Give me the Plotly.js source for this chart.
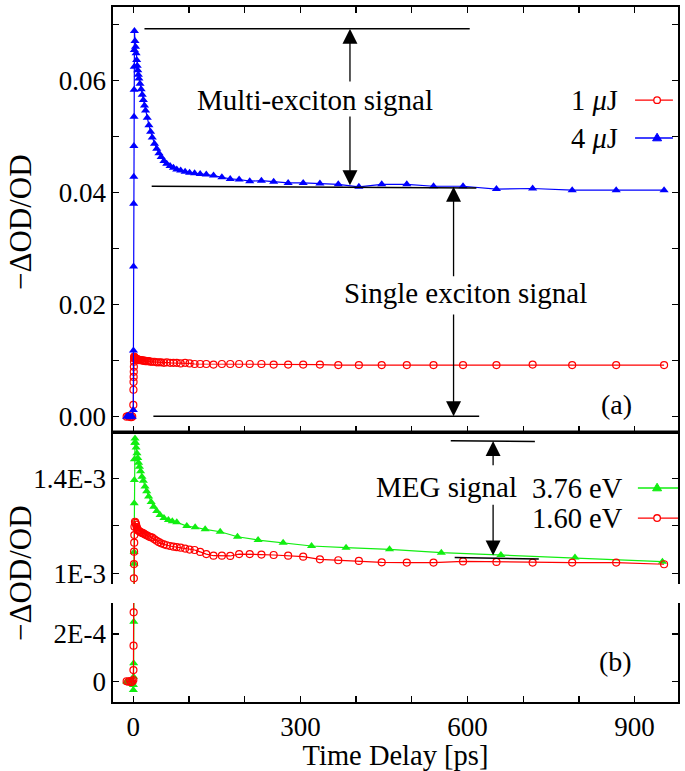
<!DOCTYPE html>
<html>
<head>
<meta charset="utf-8">
<script src="https://cdn.plot.ly/plotly-3.0.1.min.js"></script>
<style>
  body { margin: 0; background: #fff; }
  #plot { width: 685px; height: 771px; }
</style>
</head>
<body>
<div id="plot"></div>
<script>
// time delay [ps], shared by the 1/4 uJ curves and the 1.60 eV curve
var timeMain = [-12, -9, -6, -4, -2,
    0, 0.2, 0.4, 0.6, 0.8, 1.0, 1.2, 1.4, 1.6, 1.8,
    2,
    3, 4, 5, 6, 7, 8, 9, 10,
    12, 14, 16, 18, 20, 22,
    25, 28, 31, 34,
    38, 42, 46, 50,
    55, 60, 66, 72, 78,
    85, 93, 101, 110, 120,
    131, 144, 159, 174,
    190, 209, 230, 252, 278,
    305, 335, 368,
    405, 446, 491, 539, 592, 652, 717, 788, 867, 953];

// panel (a)
var od1uJ = [0, 0.0001, 0, -0.0001, 0,
    0.0021, 0.0048, 0.0062, 0.0071, 0.0080, 0.0089, 0.0098, 0.0104, 0.0107, 0.0106,
    0.0105,
    0.0104, 0.0104, 0.0103, 0.0103, 0.0102, 0.0102, 0.0102, 0.0101,
    0.0101, 0.0101, 0.0100, 0.0100, 0.0100, 0.0099,
    0.0099, 0.0099, 0.0098, 0.0098,
    0.0098, 0.0097, 0.0097, 0.0097,
    0.0096, 0.0097, 0.0096, 0.0096, 0.0096,
    0.0095, 0.0096, 0.0095, 0.0094, 0.0094,
    0.0094, 0.0093, 0.0094, 0.0094,
    0.0094, 0.0094, 0.0094, 0.0093, 0.0093,
    0.0093, 0.0093, 0.0092,
    0.0092, 0.0092, 0.0092, 0.0092, 0.0092, 0.0092, 0.0093, 0.0092, 0.0092, 0.0092];

var od4uJ = [0, 0.0002, -0.0001, 0.0001, 0,
    0.0012, 0.0118, 0.0268, 0.0380, 0.0428, 0.0483, 0.0535, 0.0583, 0.0624, 0.0654,
    0.0688,
    0.0670, 0.0660, 0.0648, 0.0636, 0.0626, 0.0618, 0.0610, 0.0603,
    0.0594, 0.0584, 0.0574, 0.0565, 0.0555, 0.0546,
    0.0533, 0.0520, 0.0508, 0.0498,
    0.0487, 0.0478, 0.0470, 0.0463,
    0.0456, 0.0451, 0.0447, 0.0444, 0.0441,
    0.0439, 0.0437, 0.0435, 0.0434, 0.0433,
    0.0432, 0.0430, 0.0427, 0.0424,
    0.0423, 0.0420, 0.0421, 0.0419, 0.0417,
    0.0417, 0.0416, 0.04145,
    0.0410, 0.04145, 0.04145, 0.0411, 0.0411, 0.0406, 0.0407, 0.0404, 0.0404, 0.0404];

// panel (b)
var od160eV = [2e-6, 0, 3e-6, -2e-6, 1e-6,
    0.7e-5, 4.9e-5, 1.51e-4, 2.91e-4, 6.2e-4, 0.979e-3, 1.039e-3, 1.091e-3, 1.129e-3, 1.161e-3,
    1.196e-3,
    1.217e-3, 1.212e-3, 1.205e-3, 1.195e-3, 1.188e-3, 1.182e-3, 1.180e-3, 1.178e-3,
    1.175e-3, 1.172e-3, 1.170e-3, 1.168e-3, 1.165e-3, 1.162e-3,
    1.159e-3, 1.155e-3, 1.152e-3, 1.150e-3,
    1.143e-3, 1.137e-3, 1.131e-3, 1.126e-3,
    1.122e-3, 1.118e-3, 1.115e-3, 1.112e-3, 1.110e-3,
    1.108e-3, 1.104e-3, 1.100e-3, 1.098e-3, 1.090e-3,
    1.081e-3, 1.074e-3, 1.074e-3, 1.073e-3,
    1.081e-3, 1.081e-3, 1.079e-3, 1.077e-3, 1.074e-3,
    1.070e-3, 1.059e-3, 1.055e-3,
    1.052e-3, 1.046e-3, 1.045e-3, 1.045e-3, 1.050e-3, 1.048e-3, 1.045e-3, 1.045e-3, 1.045e-3, 1.038e-3];

var time376 = [-12, -9, -6, -4, -2,
    0, 0.2, 0.4, 0.6, 0.8, 1.0, 1.2, 1.4, 1.6, 1.8,
    2, 2.5, 3, 4, 5,
    6.5, 8, 9.5, 11, 13, 15.5, 18, 21, 24, 27.5,
    32, 36.5, 42, 48, 55, 63, 70, 78,
    96, 111, 129, 156, 187, 224, 269,
    320, 382, 460, 553, 660, 793, 950];

var od376eV = [1e-6, -2e-6, 2e-6, 0, -1e-6,
    -0.35e-4, -0.14e-4, 0.21e-4, 0.77e-4, 2.52e-4, 0.55e-3, 1.04e-3, 1.09e-3, 1.295e-3, 1.393e-3,
    1.48e-3, 1.55e-3, 1.568e-3, 1.55e-3, 1.53e-3,
    1.505e-3, 1.485e-3, 1.465e-3, 1.449e-3, 1.43e-3, 1.407e-3, 1.39e-3, 1.365e-3, 1.345e-3, 1.323e-3,
    1.30e-3, 1.28e-3, 1.262e-3, 1.245e-3, 1.233e-3, 1.224e-3, 1.219e-3, 1.215e-3,
    1.199e-3, 1.194e-3, 1.185e-3, 1.175e-3, 1.154e-3, 1.140e-3, 1.129e-3,
    1.115e-3, 1.108e-3, 1.101e-3, 1.087e-3, 1.077e-3, 1.066e-3, 1.049e-3];

var xTicks = [0, 100, 200, 300, 400, 500, 600, 700, 800, 900];
var xTickText = ['0', '', '', '300', '', '', '600', '', '', '900'];
var yTicksA = [0, 0.01, 0.02, 0.03, 0.04, 0.05, 0.06, 0.07];
var yTickTextA = ['0.00', '', '0.02', '', '0.04', '', '0.06', ''];
var yTicksBHigh = [1.0e-3, 1.2e-3, 1.4e-3];
var yTickTextBHigh = ['1E-3', '', '1.4E-3'];
var yTicksBLow = [0, 2e-4];
var yTickTextBLow = ['0', '2E-4'];

var RED = '#ff0000', BLUE = '#0000ff', GREEN = '#11ee11';
var FONT = '"Liberation Serif", "DejaVu Serif", serif';

function circleTrace(x, y, xa, ya) {
    return {
        x: x, y: y, xaxis: xa, yaxis: ya,
        mode: 'lines+markers', type: 'scatter',
        line: {color: RED, width: 1.2},
        marker: {symbol: 'circle-open', size: 7, color: RED, line: {width: 1.2}}
    };
}
function triangleTrace(x, y, color, xa, ya) {
    return {
        x: x, y: y, xaxis: xa, yaxis: ya,
        mode: 'lines+markers', type: 'scatter',
        line: {color: color, width: 1.2},
        marker: {symbol: 'triangle-up', size: 8, color: color}
    };
}

var data = [
    circleTrace(timeMain, od1uJ, 'x', 'y'),
    triangleTrace(timeMain, od4uJ, BLUE, 'x', 'y'),
    // panel (b), drawn on both halves of the broken axis
    triangleTrace(time376, od376eV, GREEN, 'x2', 'y2'),
    circleTrace(timeMain, od160eV, 'x2', 'y2'),
    triangleTrace(time376, od376eV, GREEN, 'x2', 'y3'),
    circleTrace(timeMain, od160eV, 'x2', 'y3')
];

var tickFont = {family: FONT, size: 27, color: '#000'};
var axisCommon = {
    showline: true, linecolor: '#000', linewidth: 1.6,
    ticks: 'inside', ticklen: 6, tickwidth: 1.3, tickcolor: '#000',
    showgrid: false, zeroline: false, tickfont: tickFont, mirror: 'ticks'
};

var layout = {
    width: 685, height: 771,
    margin: {l: 113, r: 7, t: 7, b: 69},
    showlegend: false,
    paper_bgcolor: '#fff', plot_bgcolor: '#fff',
    font: {family: FONT, size: 27, color: '#000'},
    xaxis: Object.assign({}, axisCommon, {
        domain: [0, 1], anchor: 'y', range: [-36.5, 978],
        tickvals: xTicks, showticklabels: false
    }),
    yaxis: Object.assign({}, axisCommon, {
        domain: [0.3885, 1], anchor: 'x', range: [-0.00273, 0.07307],
        tickvals: yTicksA, ticktext: yTickTextA
    }),
    xaxis2: Object.assign({}, axisCommon, {
        domain: [0, 1], anchor: 'y3', range: [-36.5, 978], mirror: false,
        tickvals: xTicks, ticktext: xTickText,
        title: {text: 'Time Delay [ps]', font: {family: FONT, size: 28.5}, standoff: 5}
    }),
    yaxis2: Object.assign({}, axisCommon, {
        domain: [0.1698, 0.3885], anchor: 'x2', range: [0.955e-3, 1.595e-3],
        tickvals: yTicksBHigh, ticktext: yTickTextBHigh
    }),
    yaxis3: Object.assign({}, axisCommon, {
        domain: [0, 0.1424], anchor: 'x2', range: [-0.85e-4, 3.30e-4],
        tickvals: yTicksBLow, ticktext: yTickTextBLow
    }),
    shapes: [
        // separator between the panels
        {type: 'line', xref: 'paper', yref: 'paper', x0: 0, x1: 1, y0: 0.3885, y1: 0.3885,
         line: {color: '#000', width: 3}},
        // guide lines, panel (a)
        {type: 'line', xref: 'x', yref: 'y', x0: 20, x1: 604, y0: 0.0692, y1: 0.0692,
         line: {color: '#000', width: 1.5}},
        {type: 'line', xref: 'x', yref: 'y', x0: 33, x1: 616, y0: 0.0411, y1: 0.0408,
         line: {color: '#000', width: 1.5}},
        {type: 'line', xref: 'x', yref: 'y', x0: 36, x1: 621, y0: 0.0001, y1: 0.0001,
         line: {color: '#000', width: 1.5}},
        // guide lines, panel (b)
        {type: 'line', xref: 'x2', yref: 'y2', x0: 570, x1: 721, y0: 1.558e-3, y1: 1.555e-3,
         line: {color: '#000', width: 1.5}},
        {type: 'line', xref: 'x2', yref: 'y2', x0: 577, x1: 728, y0: 1.067e-3, y1: 1.060e-3,
         line: {color: '#000', width: 1.5}},
        // legend samples (a)
        {type: 'line', xref: 'paper', yref: 'paper', x0: 0.924, x1: 0.991, y0: 0.866, y1: 0.866,
         line: {color: RED, width: 1.3}},
        {type: 'circle', xref: 'paper', yref: 'paper', xsizemode: 'pixel', ysizemode: 'pixel',
         xanchor: 0.963, yanchor: 0.866, x0: -3.3, x1: 3.3, y0: -3.3, y1: 3.3,
         fillcolor: '#fff', line: {color: RED, width: 1.3}},
        {type: 'line', xref: 'paper', yref: 'paper', x0: 0.924, x1: 0.991, y0: 0.8115, y1: 0.8115,
         line: {color: BLUE, width: 1.3}},
        {type: 'path', xref: 'paper', yref: 'paper', xsizemode: 'pixel', ysizemode: 'pixel',
         xanchor: 0.963, yanchor: 0.8115, path: 'M -4.5 -2.8 L 4.5 -2.8 L 0 4.8 Z',
         fillcolor: BLUE, line: {color: BLUE, width: 1}},
        // legend samples (b)
        {type: 'line', xref: 'paper', yref: 'paper', x0: 0.929, x1: 1.0, y0: 0.3079, y1: 0.3079,
         line: {color: GREEN, width: 1.5}},
        {type: 'path', xref: 'paper', yref: 'paper', xsizemode: 'pixel', ysizemode: 'pixel',
         xanchor: 0.963, yanchor: 0.3079, path: 'M -4.5 -2.8 L 4.5 -2.8 L 0 4.8 Z',
         fillcolor: GREEN, line: {color: GREEN, width: 1}},
        {type: 'line', xref: 'paper', yref: 'paper', x0: 0.929, x1: 1.0, y0: 0.2647, y1: 0.2647,
         line: {color: RED, width: 1.3}},
        {type: 'circle', xref: 'paper', yref: 'paper', xsizemode: 'pixel', ysizemode: 'pixel',
         xanchor: 0.963, yanchor: 0.2647, x0: -3.3, x1: 3.3, y0: -3.3, y1: 3.3,
         fillcolor: '#fff', line: {color: RED, width: 1.3}}
    ],
    annotations: []
};

var arrowStyle = {showarrow: true, arrowhead: 2, arrowsize: 2.3, arrowwidth: 1.3,
                  arrowcolor: '#000', text: '', standoff: 0, startstandoff: 0};
function arrow(xa, ya, x, yTail, yHead) {
    return Object.assign({xref: xa, yref: ya, axref: xa, ayref: ya,
                          x: x, y: yHead, ax: x, ay: yTail}, arrowStyle);
}
function label(xa, ya, x, y, text, size) {
    return {xref: xa, yref: ya, x: x, y: y, text: text, showarrow: false,
            xanchor: 'center', yanchor: 'middle',
            font: {family: FONT, size: size || 29, color: '#000'}};
}
function legendText(y, xRight, text) {
    return {xref: 'paper', yref: 'paper', x: xRight, y: y, xanchor: 'right', yanchor: 'middle',
            text: text, showarrow: false, font: {family: FONT, size: 28.5, color: '#000'}};
}

layout.annotations.push(
    arrow('x', 'y', 389, 0.0595, 0.0692),
    arrow('x', 'y', 389, 0.0538, 0.0413),
    label('x', 'y', 326, 0.0565, 'Multi-exciton signal'),
    arrow('x', 'y', 575, 0.0248, 0.0410),
    arrow('x', 'y', 575, 0.0185, 0.0001),
    label('x', 'y', 597, 0.0220, 'Single exciton signal'),
    label('x', 'y', 868, 0.0021, '(a)', 28),
    arrow('x2', 'y2', 646, 1.449e-3, 1.557e-3),
    arrow('x2', 'y2', 646, 1.295e-3, 1.075e-3),
    label('x2', 'y2', 563, 1.363e-3, 'MEG signal'),
    label('x2', 'y3', 865, 0.83e-4, '(b)', 28),
    // legends: text on the left of the sample, as in the original
    legendText(0.866, 0.897, '1 <i>μ</i>J'),
    legendText(0.8115, 0.897, '4 <i>μ</i>J'),
    legendText(0.3079, 0.906, '3.76 eV'),
    legendText(0.2647, 0.906, '1.60 eV'),
    // y axis titles
    {xref: 'paper', yref: 'paper', x: -0.1646, y: 0.6906, xanchor: 'center', yanchor: 'middle',
     textangle: -90, showarrow: false,
     text: '\u2212\u0394OD/OD', font: {family: FONT, size: 31}},
    {xref: 'paper', yref: 'paper', x: -0.1646, y: 0.1856, xanchor: 'center', yanchor: 'middle',
     textangle: -90, showarrow: false,
     text: '\u2212\u0394OD/OD', font: {family: FONT, size: 31}}
);

Plotly.newPlot('plot', data, layout, {displayModeBar: false, staticPlot: true});
</script>
</body>
</html>
